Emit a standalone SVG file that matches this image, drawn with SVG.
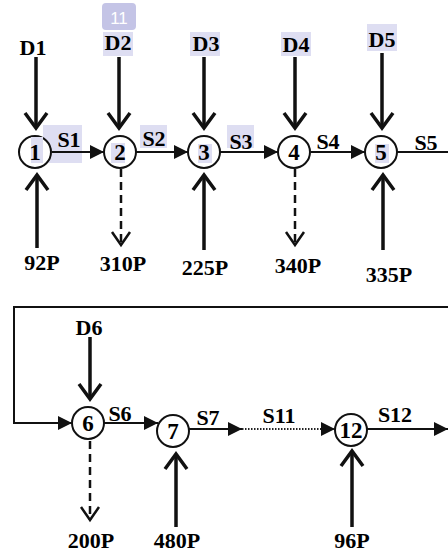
<svg xmlns="http://www.w3.org/2000/svg" width="448" height="554" viewBox="0 0 448 554">
<style>
.c{fill:#fff;stroke:#111;stroke-width:2}
.h{fill:#dedef2}
.v{stroke:#111;stroke-width:3.5;fill:none}
.d{stroke:#111;stroke-width:2.5;fill:none;stroke-dasharray:8 5}
.a{stroke:#111;stroke-width:2;fill:none}
.dot{stroke:#222;stroke-width:2;fill:none;stroke-dasharray:1.5 1.5}
</style>
<defs>
<marker id="tri" viewBox="0 0 14 14" refX="14" refY="7" markerWidth="14" markerHeight="14" markerUnits="userSpaceOnUse" orient="auto"><path d="M0,0 L14,7 L0,14 z" fill="#111"/></marker>
<marker id="chev" viewBox="0 0 20 26" refX="17" refY="13" markerWidth="20" markerHeight="26" markerUnits="userSpaceOnUse" orient="auto"><path d="M2,2 L17,13 L2,24" fill="none" stroke="#111" stroke-width="3.5"/></marker>
<marker id="chevd" viewBox="0 0 18 22" refX="15" refY="11" markerWidth="18" markerHeight="22" markerUnits="userSpaceOnUse" orient="auto"><path d="M2,2 L15,11 L2,20" fill="none" stroke="#111" stroke-width="2.5"/></marker>
</defs>
<rect width="448" height="554" fill="#fff"/>
<g id="highlights">
<rect x="102" y="3" width="34" height="27" rx="4" fill="#c4c4e6"/>
<text x="119" y="24" font-family="Liberation Sans, Arial, sans-serif" font-size="17" fill="#fff" text-anchor="middle">11</text>
<rect class="h" x="103" y="32" width="30" height="24"/>
<rect class="h" x="190" y="32" width="30" height="24"/>
<rect class="h" x="281" y="32" width="30" height="24"/>
<rect class="h" x="367" y="24" width="30" height="27"/>
<rect class="h" x="43" y="125" width="39" height="38"/>
<rect class="h" x="140" y="125" width="27" height="23"/>
<rect class="h" x="227" y="125" width="27" height="23"/>
</g>
<g id="connectors">
<line class="a" x1="52" y1="152" x2="104" y2="152" marker-end="url(#tri)"/>
<line class="a" x1="136" y1="152" x2="188" y2="152" marker-end="url(#tri)"/>
<line class="a" x1="220" y1="152" x2="278" y2="152" marker-end="url(#tri)"/>
<line class="a" x1="311" y1="152" x2="365" y2="152" marker-end="url(#tri)"/>
<line class="a" x1="397" y1="152" x2="448" y2="152"/>
<polyline class="a" points="448,307 14,307 14,423 72,423" marker-end="url(#tri)"/>
<line class="a" x1="104" y1="423" x2="158" y2="423" marker-end="url(#tri)"/>
<line class="a" x1="189" y1="429" x2="242" y2="429" marker-end="url(#tri)"/>
<line class="dot" x1="242" y1="429" x2="335" y2="429"/>
<line x1="330" y1="429" x2="335" y2="429" stroke="#111" stroke-width="1" marker-end="url(#tri)"/>
<line class="a" x1="367" y1="429" x2="448" y2="429" marker-end="url(#tri)"/>
<line class="v" x1="36" y1="57" x2="36" y2="128" marker-end="url(#chev)"/>
<line class="v" x1="119" y1="57" x2="119" y2="128" marker-end="url(#chev)"/>
<line class="v" x1="204" y1="57" x2="204" y2="128" marker-end="url(#chev)"/>
<line class="v" x1="295" y1="57" x2="295" y2="128" marker-end="url(#chev)"/>
<line class="v" x1="382" y1="53" x2="382" y2="128" marker-end="url(#chev)"/>
<line class="v" x1="90" y1="337" x2="90" y2="399" marker-end="url(#chev)"/>
<line class="v" x1="37" y1="248" x2="37" y2="175" marker-end="url(#chev)"/>
<line class="v" x1="204" y1="250" x2="204" y2="175" marker-end="url(#chev)"/>
<line class="v" x1="383" y1="250" x2="383" y2="175" marker-end="url(#chev)"/>
<line class="v" x1="176" y1="527" x2="176" y2="454" marker-end="url(#chev)"/>
<line class="v" x1="352" y1="527" x2="352" y2="451" marker-end="url(#chev)"/>
<line class="d" x1="121" y1="169" x2="121" y2="245" marker-end="url(#chevd)"/>
<line class="d" x1="295" y1="169" x2="295" y2="245" marker-end="url(#chevd)"/>
<line class="d" x1="90" y1="441" x2="90" y2="520" marker-end="url(#chevd)"/>
</g>
<g font-family="Liberation Serif, Times New Roman, serif" font-weight="bold" font-size="23" fill="#000" text-anchor="middle">
<g id="node1"><circle class="c" cx="35" cy="152" r="16"/><rect class="h" x="31" y="137" width="12" height="26"/><text x="35" y="160">1</text></g>
<g id="node2"><circle class="c" cx="120" cy="152" r="16"/><rect class="h" x="111" y="143" width="14" height="20"/><text x="120" y="160">2</text></g>
<g id="node3"><circle class="c" cx="204" cy="152" r="16"/><rect class="h" x="198" y="144" width="14" height="19"/><text x="204" y="160">3</text></g>
<g id="node4"><circle class="c" cx="294" cy="152" r="16"/><text x="294" y="160">4</text></g>
<g id="node5"><circle class="c" cx="381" cy="152" r="16"/><rect class="h" x="375" y="144" width="14" height="19"/><text x="381" y="160">5</text></g>
<g id="node6"><circle class="c" cx="88" cy="423" r="16"/><text x="88" y="431">6</text></g>
<g id="node7"><circle class="c" cx="173" cy="431" r="16"/><text x="173" y="439">7</text></g>
<g id="node12"><circle class="c" cx="351" cy="430" r="16"/><text x="351" y="438">12</text></g>
</g>
<g id="labels" font-family="Liberation Serif, Times New Roman, serif" font-weight="bold" font-size="22" fill="#000" text-anchor="middle">
<text x="33" y="55">D1</text>
<text x="118" y="50">D2</text>
<text x="206" y="51">D3</text>
<text x="296" y="52">D4</text>
<text x="382" y="47">D5</text>
<text x="89" y="335">D6</text>
<text x="69" y="147">S1</text>
<text x="154" y="146">S2</text>
<text x="241" y="149">S3</text>
<text x="328" y="149">S4</text>
<text x="426" y="150">S5</text>
<text x="120" y="421">S6</text>
<text x="208" y="425">S7</text>
<text x="279" y="423">S11</text>
<text x="395" y="422">S12</text>
<text x="42" y="270">92P</text>
<text x="123" y="271">310P</text>
<text x="205" y="275">225P</text>
<text x="298" y="273">340P</text>
<text x="389" y="282">335P</text>
<text x="91" y="548">200P</text>
<text x="177" y="548">480P</text>
<text x="352" y="548">96P</text>
</g>
</svg>
